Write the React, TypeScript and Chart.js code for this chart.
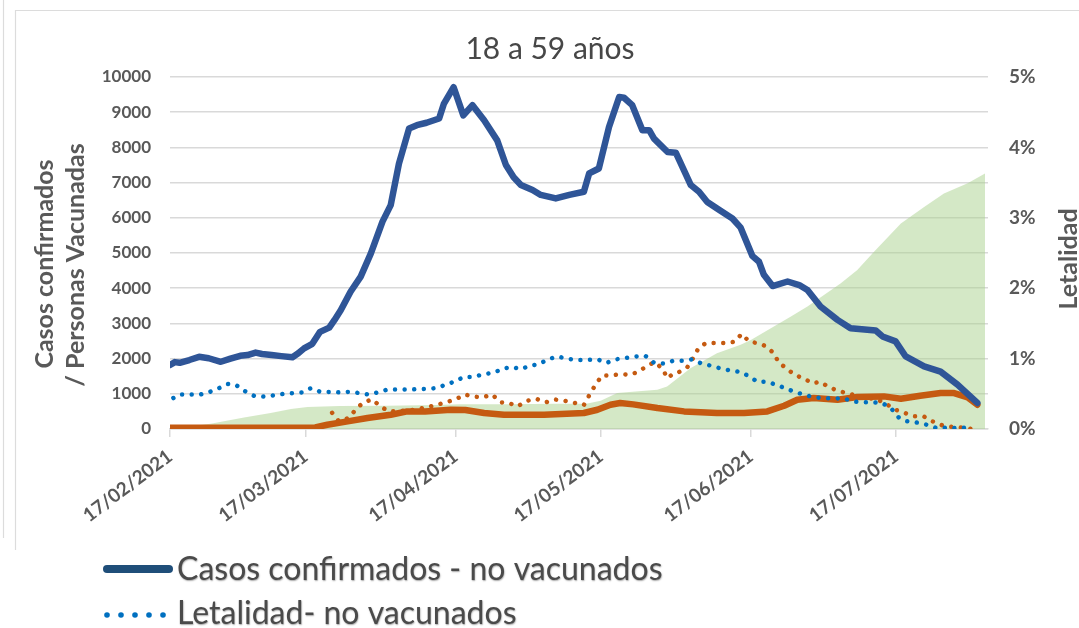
import React, { useEffect, useRef } from 'react';
import { Chart, registerables } from 'chart.js';

Chart.register(...registerables);

const W = 1079;
const H = 628;

const chartTitle = '18 a 59 años';
const leftAxisTitle = ['Casos confirmados', '/ Personas Vacunadas'];
const rightAxisTitle = 'Letalidad';
const legendLabels = ['Casos confirmados - no vacunados', 'Letalidad- no vacunados'];

// x positions are days since 17/02/2021
const tickDays = [0, 28, 59, 89, 120, 150];
const tickLabels = ['17/02/2021', '17/03/2021', '17/04/2021', '17/05/2021', '17/06/2021', '17/07/2021'];

// Casos confirmados - no vacunados (left axis)
const casosNoVacDias = [0, 1, 2, 4, 6, 8, 10.5, 12.5, 14.5, 16, 17.7, 19, 21, 23, 25.3, 26.5, 27.7, 29.4, 31, 32.9, 34, 35.3, 37.3, 39.4, 41.5, 43.9, 45.6, 47.3, 49.4, 51, 53, 55.6, 56.6, 58.6, 60.6, 62.5, 64.9, 67.6, 69.4, 71, 72.5, 74.9, 76.6, 79.7, 82.5, 85.5, 86.6, 88.6, 90.7, 92.8, 93.8, 95.5, 97.6, 99, 100, 102.8, 104.5, 107.6, 109.3, 111, 113.5, 116.2, 117.9, 120.3, 121.7, 122.7, 124.5, 127.6, 130, 131.7, 134.4, 137.9, 140.6, 145.8, 147.2, 149.9, 152, 155.8, 159.2, 162.7, 166.8];
const casosNoVac = [1820, 1900, 1880, 1960, 2050, 2010, 1910, 2000, 2080, 2100, 2170, 2130, 2100, 2070, 2040, 2150, 2290, 2420, 2760, 2880, 3100, 3380, 3900, 4330, 4990, 5890, 6360, 7540, 8540, 8630, 8700, 8820, 9245, 9710, 8910, 9200, 8770, 8200, 7500, 7150, 6930, 6790, 6650, 6550, 6650, 6740, 7260, 7400, 8580, 9430, 9410, 9200, 8490, 8490, 8250, 7870, 7850, 6930, 6740, 6450, 6220, 5980, 5720, 4920, 4750, 4380, 4060, 4190, 4090, 3950, 3480, 3100, 2860, 2800, 2630, 2490, 2060, 1780, 1630, 1260, 740];

// Casos confirmados - vacunados (left axis)
const casosVacDias = [0, 10, 20, 30, 32.5, 36.7, 40.8, 45.6, 49, 52.7, 58, 61, 64.9, 69, 77.3, 85.5, 88.3, 91, 93, 95.7, 100.7, 106.2, 113, 118.6, 123.4, 126.9, 129.6, 133, 137.9, 142, 147.5, 151, 155, 159.2, 162, 164.8, 166.8];
const casosVac = [35, 35, 35, 45, 120, 216, 312, 405, 500, 500, 547, 540, 454, 405, 405, 454, 547, 689, 737, 700, 595, 500, 454, 454, 500, 661, 831, 879, 831, 907, 926, 860, 945, 1021, 1021, 900, 690];

// Personas vacunadas (left axis, area)
const vacunadosDias = [0, 8.4, 15.3, 20.8, 25, 28.4, 35, 45, 55, 60, 70, 80, 86, 89, 92.4, 100.7, 102.7, 107.6, 113, 117.9, 120, 128.2, 131.7, 138.6, 142, 145.5, 151, 155.8, 159.9, 164.8, 168.4];
const vacunados = [0, 150, 330, 454, 567, 624, 650, 660, 680, 700, 705, 715, 720, 800, 1020, 1115, 1210, 1730, 2155, 2390, 2530, 3190, 3480, 4140, 4520, 5040, 5840, 6310, 6690, 6980, 7260];

// Letalidad - no vacunados (right axis, %)
const letNoVacDias = [0.7, 2, 6.3, 8.3, 10.1, 11.9, 13.5, 15.4, 17.4, 19.5, 23.6, 27.4, 29.1, 31, 35, 37.4, 39, 41.1, 42.9, 44.9, 49, 53, 55, 57, 59, 60.7, 62.7, 64.9, 66.9, 68.9, 70.7, 72.6, 74.3, 76.2, 78.1, 80, 82, 84.1, 86.2, 88.3, 90.2, 92.2, 94.1, 96.2, 98.2, 100, 102, 104, 106, 107.9, 109.8, 111.7, 113.8, 115.8, 117.9, 119.6, 121.4, 123.5, 125.1, 127.1, 128.9, 130.9, 133, 135, 137.1, 139.1, 141, 143, 145, 147.1, 148.9, 150.6, 152.3, 154.4, 156.4, 158.5, 160.5, 162.6, 164.8];
const letNoVac = [0.44, 0.49, 0.49, 0.53, 0.58, 0.64, 0.63, 0.54, 0.47, 0.46, 0.5, 0.52, 0.58, 0.53, 0.52, 0.53, 0.51, 0.49, 0.52, 0.56, 0.56, 0.57, 0.58, 0.63, 0.68, 0.74, 0.74, 0.78, 0.8, 0.86, 0.88, 0.85, 0.9, 0.92, 0.99, 1.03, 1.0, 0.98, 0.98, 0.99, 0.94, 0.99, 1.01, 1.03, 1.04, 0.94, 0.93, 0.97, 0.97, 0.99, 0.93, 0.9, 0.86, 0.83, 0.81, 0.75, 0.67, 0.67, 0.63, 0.58, 0.53, 0.49, 0.45, 0.44, 0.43, 0.44, 0.39, 0.38, 0.38, 0.37, 0.3, 0.16, 0.11, 0.09, 0.06, 0.01, 0.02, 0.01, 0.02];

// Letalidad - vacunados (right axis, %)
const letVacDias = [33.5, 34.9, 37, 38.4, 40, 41.8, 43.5, 45.2, 49, 51, 53.2, 55, 57, 59, 60.9, 62.7, 64.6, 66.6, 68.2, 70, 71.8, 73.7, 75.6, 77.7, 79.5, 81.6, 83.7, 85.5, 86.8, 88, 89.3, 91.2, 93.1, 94.9, 96.7, 98.4, 100.1, 101.7, 102.8, 104, 105.2, 106.9, 108.1, 109.2, 110.7, 112.9, 114.9, 116.7, 118.1, 119.7, 121.4, 123, 124.7, 125.8, 127.4, 129, 130.9, 132.7, 134.4, 136.2, 138.2, 140.3, 142.4, 144.1, 146, 147.7, 149.6, 151.7, 153.8, 155.7, 157.5, 159.6, 161.7, 163.7, 165.8];
const letVac = [0.23, 0.11, 0.16, 0.28, 0.38, 0.42, 0.32, 0.25, 0.26, 0.28, 0.31, 0.34, 0.38, 0.42, 0.49, 0.46, 0.45, 0.49, 0.38, 0.37, 0.32, 0.4, 0.43, 0.38, 0.42, 0.4, 0.37, 0.34, 0.5, 0.64, 0.76, 0.76, 0.78, 0.77, 0.81, 0.89, 0.95, 0.86, 0.72, 0.79, 0.81, 0.88, 1.01, 1.15, 1.22, 1.22, 1.22, 1.24, 1.35, 1.24, 1.22, 1.18, 1.08, 0.94, 0.86, 0.77, 0.72, 0.65, 0.67, 0.59, 0.54, 0.5, 0.47, 0.44, 0.42, 0.37, 0.28, 0.23, 0.18, 0.18, 0.11, 0.05, 0.03, 0.02, 0.0];

const pts = (xs: number[], ys: number[]) => xs.map((x, i) => ({ x, y: ys[i] }));

const FONT = 'Lato, "Open Sans", sans-serif';
const GRID = '#D9D9D9';
const TEXT = '#595959';

const decorPlugin = {
  id: 'decor',
  beforeDraw(chart: any) {
    const ctx = chart.ctx;
    ctx.save();
    ctx.fillStyle = '#ffffff';
    ctx.fillRect(0, 0, chart.width, chart.height);
    ctx.strokeStyle = '#DCDCDC';
    ctx.lineWidth = 1.2;
    ctx.beginPath();
    ctx.moveTo(3.5, 0);
    ctx.lineTo(3.5, 538);
    ctx.moveTo(15.5, 550);
    ctx.lineTo(15.5, 10.5);
    ctx.lineTo(W, 10.5);
    ctx.stroke();
    ctx.restore();
  },
  afterDraw(chart: any) {
    const ctx = chart.ctx;
    ctx.save();
    // chart title
    ctx.fillStyle = '#474747';
    ctx.font = `30px ${FONT}`;
    ctx.textAlign = 'center';
    ctx.textBaseline = 'alphabetic';
    ctx.fillText(chartTitle, 550, 59);

    // left axis title (two lines, rotated)
    ctx.fillStyle = TEXT;
    ctx.font = `bold 25px ${FONT}`;
    ctx.save();
    ctx.translate(53, 264);
    ctx.rotate(-Math.PI / 2);
    ctx.fillText(leftAxisTitle[0], 0, 0);
    ctx.restore();
    ctx.save();
    ctx.translate(84, 265);
    ctx.rotate(-Math.PI / 2);
    ctx.fillText(leftAxisTitle[1], 0, 0);
    ctx.restore();

    // right axis title
    ctx.save();
    ctx.translate(1077, 259);
    ctx.rotate(-Math.PI / 2);
    ctx.fillText(rightAxisTitle, 0, 0);
    ctx.restore();

    // legend
    ctx.strokeStyle = '#1F4E79';
    ctx.lineWidth = 8;
    ctx.lineCap = 'round';
    ctx.beginPath();
    ctx.moveTo(107, 569);
    ctx.lineTo(169, 569);
    ctx.stroke();
    ctx.fillStyle = '#0070C0';
    for (let i = 0; i < 5; i++) {
      ctx.beginPath();
      ctx.arc(107 + i * 14, 615, 2.8, 0, Math.PI * 2);
      ctx.fill();
    }
    ctx.fillStyle = '#4A4A4A';
    ctx.shadowColor = 'rgba(0,0,0,0.35)';
    ctx.shadowBlur = 1.5;
    ctx.shadowOffsetX = 0.5;
    ctx.shadowOffsetY = 0.5;
    ctx.font = `32px ${FONT}`;
    ctx.textAlign = 'left';
    ctx.fillText(legendLabels[0], 177, 580);
    ctx.fillText(legendLabels[1], 177, 624);
    ctx.restore();
  },
};

export default function App() {
  const ref = useRef<HTMLCanvasElement | null>(null);

  useEffect(() => {
    if (!ref.current) return;
    const chart = new Chart(ref.current, {
      type: 'line',
      data: {
        datasets: [
          {
            label: legendLabels[0],
            data: pts(casosNoVacDias, casosNoVac),
            borderColor: '#2F5597',
            borderWidth: 6.5,
            borderJoinStyle: 'round',
            borderCapStyle: 'round',
            pointRadius: 0,
            yAxisID: 'y',
            order: 0,
          },
          {
            label: legendLabels[1],
            data: pts(letNoVacDias, letNoVac),
            borderColor: '#0070C0',
            borderWidth: 4.5,
            borderDash: [0.01, 9.6],
            borderCapStyle: 'round',
            pointRadius: 0,
            yAxisID: 'y1',
            order: 1,
          },
          {
            label: 'Letalidad- vacunados',
            data: pts(letVacDias, letVac),
            borderColor: '#C55A11',
            borderWidth: 4.5,
            borderDash: [0.01, 9.6],
            borderCapStyle: 'round',
            pointRadius: 0,
            yAxisID: 'y1',
            order: 2,
          },
          {
            label: 'Casos confirmados - vacunados',
            data: pts(casosVacDias, casosVac),
            borderColor: '#C55A11',
            borderWidth: 6.5,
            borderJoinStyle: 'round',
            borderCapStyle: 'round',
            pointRadius: 0,
            yAxisID: 'y',
            order: 3,
          },
          {
            label: 'Personas vacunadas',
            data: pts(vacunadosDias, vacunados),
            borderWidth: 0,
            borderColor: 'rgba(0,0,0,0)',
            backgroundColor: 'rgba(169,209,142,0.5)',
            fill: 'origin',
            pointRadius: 0,
            yAxisID: 'y',
            order: 4,
          },
        ],
      },
      options: {
        responsive: false,
        animation: false,
        layout: { padding: { top: 77, left: 0, right: 0, bottom: 0 } },
        plugins: {
          legend: { display: false },
          title: { display: false },
          tooltip: { enabled: false },
        },
        scales: {
          x: {
            type: 'linear',
            min: 0,
            max: 169,
            afterBuildTicks: (s: any) => {
              s.ticks = tickDays.map((v) => ({ value: v }));
            },
            afterFit: (s: any) => {
              s.height = H - 429;
            },
            ticks: {
              autoSkip: false,
              minRotation: 37,
              maxRotation: 37,
              padding: 8,
              color: TEXT,
              font: { family: FONT, size: 19, weight: 'bold' },
              callback: (v: any) => {
                const i = tickDays.indexOf(Number(v));
                return i >= 0 ? tickLabels[i] : '';
              },
            },
            grid: { drawOnChartArea: false, color: GRID, lineWidth: 1.5, tickLength: 8 },
            border: { color: GRID, width: 1.5 },
          },
          y: {
            position: 'left',
            min: 0,
            max: 10000,
            afterFit: (s: any) => {
              s.width = 170;
            },
            ticks: {
              stepSize: 1000,
              padding: 19,
              color: TEXT,
              font: { family: FONT, size: 17, weight: 'bold' },
              callback: (v: any) => String(v),
            },
            grid: { color: GRID, lineWidth: 1.5, drawTicks: false },
            border: { display: false },
          },
          y1: {
            position: 'right',
            min: 0,
            max: 5,
            afterFit: (s: any) => {
              s.width = W - 988;
            },
            ticks: {
              stepSize: 1,
              padding: 21,
              color: TEXT,
              font: { family: FONT, size: 19, weight: 'bold' },
              callback: (v: any) => `${v}%`,
            },
            grid: { display: false, drawTicks: false },
            border: { display: false },
          },
        },
      },
      plugins: [decorPlugin],
    } as any);
    return () => chart.destroy();
  }, []);

  return (
    <div style={{ position: 'fixed', left: 0, top: 0, width: W, height: H, background: '#fff' }}>
      <canvas ref={ref} width={W} height={H} style={{ display: 'block' }} />
    </div>
  );
}
